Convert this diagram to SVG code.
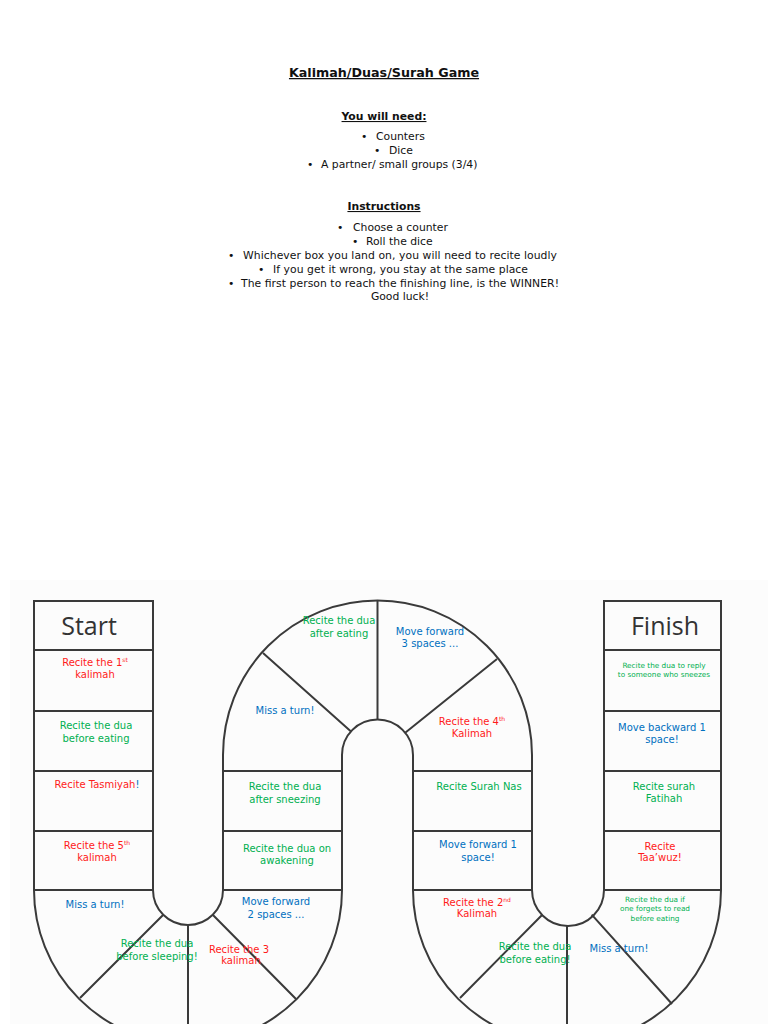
<svg xmlns="http://www.w3.org/2000/svg" width="768" height="1024" viewBox="0 0 768 1024">
<style>
text{font-family:"DejaVu Sans","Liberation Sans",sans-serif}
.t{font-size:10.8px;fill:#111}
.h{font-size:10.8px;font-weight:bold;fill:#111;text-decoration:underline}
.c{font-size:10px;text-anchor:middle}
.s{font-size:7.3px;text-anchor:middle}
.r{fill:#ff1a1a}.g{fill:#00b050}.b{fill:#0070c0}
.big{font-family:"Open Sans","Lato",sans-serif;font-size:25px;fill:#333;text-anchor:middle}
.ln{fill:none;stroke:#3a3a3a;stroke-width:2}
.sup{font-size:6px}
</style>
<rect width="768" height="1024" fill="#fff"/>
<rect x="10" y="580" width="758" height="444" fill="#fcfcfc"/>
<g id="header">
<text class="h" x="384" y="77" text-anchor="middle" style="font-size:12.7px">Kalimah/Duas/Surah Game</text>
<text class="h" x="384" y="120" text-anchor="middle">You will need:</text>
<text class="t" x="361" y="140">•</text><text class="t" x="376" y="140">Counters</text>
<text class="t" x="374" y="154">•</text><text class="t" x="389" y="154">Dice</text>
<text class="t" x="307" y="168">•</text><text class="t" x="321" y="168">A partner/ small groups (3/4)</text>
<text class="h" x="384" y="210" text-anchor="middle">Instructions</text>
<text class="t" x="337" y="231">•</text><text class="t" x="353" y="231">Choose a counter</text>
<text class="t" x="352" y="245">•</text><text class="t" x="366" y="245">Roll the dice</text>
<text class="t" x="228" y="259">•</text><text class="t" x="243" y="259" textLength="314">Whichever box you land on, you will need to recite loudly</text>
<text class="t" x="258" y="273">•</text><text class="t" x="273" y="273" textLength="255">If you get it wrong, you stay at the same place</text>
<text class="t" x="228" y="287">•</text><text class="t" x="241" y="287" textLength="318">The first person to reach the finishing line, is the WINNER!</text>
<text class="t" x="400" y="300" text-anchor="middle">Good luck!</text>
</g>
<g id="board">
<path class="ln" d="M34 601H153V890A35 35 0 0 0 223 890V755A154.5 154.5 0 0 1 532 755V890A36 36 0 0 0 604 890V601H721V890A154 154 0 0 1 413 890V755A35.5 35.5 0 0 0 342 755V890A154 154 0 0 1 34 890Z"/>
<path class="ln" d="M34 650H153M34 711H153M34 771H153M34 831H153M34 890H153M223 771H342M223 831H342M223 890H342M413 771H532M413 831H532M413 890H532M604 650H721M604 711H721M604 771H721M604 831H721M604 890H721"/>
<path class="ln" d="M377.5 601V719.5M263 653L351 731.4M497 659L405.2 732.8M188 925V1044M163.3 914.7L80 998M212.7 914.7L296 999M567 926V1044M542.3 914.7L460 998M591.7 914.7L672 1004"/>
</g>
<g id="start"><text class="big" x="89" y="635">Start</text></g>
<g id="finish"><text class="big" x="665" y="635">Finish</text></g>
<g id="cell-1"><text class="c r" x="95" y="666">Recite the 1<tspan class="sup" dy="-4">st</tspan></text><text class="c r" x="95" y="678">kalimah</text></g>
<g id="cell-2"><text class="c g" x="96" y="729">Recite the dua</text><text class="c g" x="96" y="742">before eating</text></g>
<g id="cell-3"><text class="c r" x="97" y="788">Recite Tasmiyah<tspan class="b">!</tspan></text></g>
<g id="cell-4"><text class="c r" x="97" y="849">Recite the 5<tspan class="sup" dy="-4">th</tspan></text><text class="c r" x="97" y="861">kalimah</text></g>
<g id="cell-5"><text class="c b" x="95" y="908">Miss a turn!</text></g>
<g id="cell-6"><text class="c g" x="157" y="947">Recite the dua</text><text class="c g" x="157" y="960">before sleeping!</text></g>
<g id="cell-7"><text class="c r" x="239" y="953">Recite the 3</text><text class="c r" x="241" y="964">kalimah</text></g>
<g id="cell-8"><text class="c b" x="276" y="905">Move forward</text><text class="c b" x="276" y="918">2 spaces ...</text></g>
<g id="cell-9"><text class="c g" x="287" y="852">Recite the dua on</text><text class="c g" x="287" y="864">awakening</text></g>
<g id="cell-10"><text class="c g" x="285" y="790">Recite the dua</text><text class="c g" x="285" y="803">after sneezing</text></g>
<g id="cell-11"><text class="c b" x="285" y="714">Miss a turn!</text></g>
<g id="cell-12"><text class="c g" x="339" y="624">Recite the dua</text><text class="c g" x="339" y="637">after eating</text></g>
<g id="cell-13"><text class="c b" x="430" y="635">Move forward</text><text class="c b" x="430" y="647">3 spaces ...</text></g>
<g id="cell-14"><text class="c r" x="472" y="725">Recite the 4<tspan class="sup" dy="-4">th</tspan></text><text class="c r" x="472" y="737">Kalimah</text></g>
<g id="cell-15"><text class="c g" x="479" y="790">Recite Surah Nas</text></g>
<g id="cell-16"><text class="c b" x="478" y="848">Move forward 1</text><text class="c b" x="478" y="861">space!</text></g>
<g id="cell-17"><text class="c r" x="477" y="906">Recite the 2<tspan class="sup" dy="-4">nd</tspan></text><text class="c r" x="477" y="917">Kalimah</text></g>
<g id="cell-18"><text class="c g" x="535" y="950">Recite the dua</text><text class="c g" x="535" y="963">before eating!</text></g>
<g id="cell-19"><text class="c b" x="619" y="952">Miss a turn!</text></g>
<g id="cell-20"><text class="s g" x="655" y="902">Recite the dua if</text><text class="s g" x="655" y="911">one forgets to read</text><text class="s g" x="655" y="921">before eating</text></g>
<g id="cell-21"><text class="c r" x="660" y="850">Recite</text><text class="c r" x="660" y="861">Taa’wuz!</text></g>
<g id="cell-22"><text class="c g" x="664" y="790">Recite surah</text><text class="c g" x="664" y="802">Fatihah</text></g>
<g id="cell-23"><text class="c b" x="662" y="731">Move backward 1</text><text class="c b" x="662" y="743">space!</text></g>
<g id="cell-24"><text class="s g" x="664" y="668">Recite the dua to reply</text><text class="s g" x="664" y="677">to someone who sneezes</text></g>
</svg>
